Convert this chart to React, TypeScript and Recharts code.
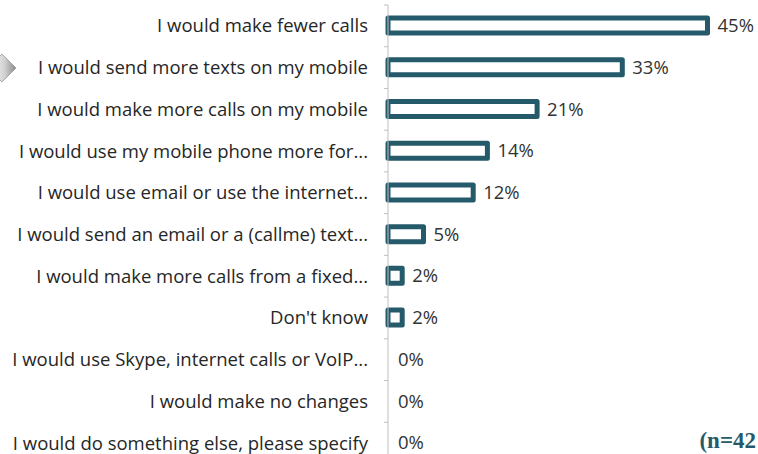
import React from 'react';
import { BarChart, Bar, XAxis, YAxis, LabelList, Rectangle } from 'recharts';

const categories = [
  'I would make fewer calls',
  'I would send more texts on my mobile',
  'I would make more calls on my mobile',
  'I would use my mobile phone more for...',
  'I would use email or use the internet...',
  'I would send an email or a (callme) text...',
  'I would make more calls from a fixed...',
  "Don't know",
  'I would use Skype, internet calls or VoIP...',
  'I would make no changes',
  'I would do something else, please specify',
];
const values = [45, 33, 21, 14, 12, 5, 2, 2, 0, 0, 0];
const sampleNote = '(n=42';

const data = categories.map((c, i) => ({ name: c, value: values[i] }));

const TEAL = '#245A6A';
const AXIS = '#BFBFBF';
const FONT = '"Open Sans", Lato, sans-serif';

const CategoryTick = (props: any) => {
  const { x, y, payload, index, visibleTicksCount } = props;
  const half = payload.offset || 0;
  const ax = x + 20;
  return (
    <g>
      <text x={x} y={y} dy="0.35em" textAnchor="end" fontSize={18.5} fontFamily={FONT} fill="#262626">
        {payload.value}
      </text>
      <line x1={ax - 4} x2={ax} y1={y - half} y2={y - half} stroke={AXIS} strokeWidth={1} />
      {index === visibleTicksCount - 1 ? (
        <line x1={ax - 4} x2={ax} y1={y + half} y2={y + half} stroke={AXIS} strokeWidth={1} />
      ) : null}
    </g>
  );
};

const BarShape = (props: any) => {
  const v = props.payload ? props.payload.value : 0;
  if (!v) return <g />;
  return <Rectangle {...props} />;
};

export default function App() {
  return (
    <div style={{ position: 'absolute', left: 0, top: 0, width: 758, height: 454, overflow: 'hidden', background: '#fff' }}>
      <BarChart
        width={758}
        height={470}
        data={data}
        layout="vertical"
        margin={{ top: 5, right: 15, bottom: 6, left: 0 }}
        barCategoryGap={0}
      >
        <XAxis type="number" domain={[0, 50]} hide />
        <YAxis
          type="category"
          dataKey="name"
          width={388}
          tickSize={0}
          tickMargin={20}
          tickLine={false}
          axisLine={{ stroke: AXIS, strokeWidth: 1 }}
          tick={<CategoryTick />}
          interval={0}
        />
        <Bar
          dataKey="value"
          barSize={15}
          fill="#ffffff"
          stroke={TEAL}
          strokeWidth={5}
          strokeLinejoin="round"
          minPointSize={0.001}
          shape={<BarShape />}
          isAnimationActive={false}
        >
          <LabelList
            dataKey="value"
            position="right"
            offset={10}
            formatter={(v: any) => `${v}%`}
            style={{ fontSize: 18.5, fontFamily: FONT, fill: '#333333' }}
          />
        </Bar>
      </BarChart>
      <svg width={758} height={454} style={{ position: 'absolute', left: 0, top: 0, pointerEvents: 'none' }}>
        <defs>
          <linearGradient id="arrowGrad" x1="0" y1="0" x2="1" y2="0">
            <stop offset="0%" stopColor="#ffffff" />
            <stop offset="60%" stopColor="#d0d0d0" />
            <stop offset="100%" stopColor="#8a8a8a" />
          </linearGradient>
        </defs>
        <polygon points="-12,68 2,54 16,68 2,82" fill="url(#arrowGrad)" stroke="#9a9a9a" strokeWidth={0.8} />
        <text x={756} y={448} textAnchor="end" fontSize={23} fontWeight="bold" fontFamily='"Liberation Serif", "Times New Roman", serif' fill={TEAL}>
          {sampleNote}
        </text>
      </svg>
    </div>
  );
}
